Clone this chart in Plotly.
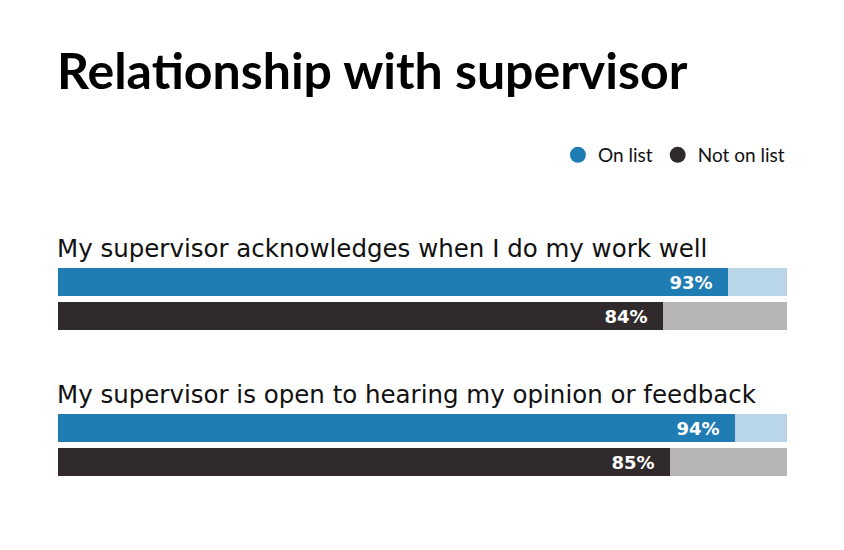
import plotly.graph_objects as go

questions = ["My supervisor acknowledges when I do my work well",
             "My supervisor is open to hearing my opinion or feedback"]
groups = ["On list", "Not on list"]
on_list = [93, 94]
not_on_list = [84, 85]

colors = {"On list": ("#1f7db4", "#b9d6e8"), "Not on list": ("#302a2c", "#b6b4b5")}

# layout in pixels (y axis = page pixels, top down; page has an 8px body margin)
W, H = 844, 550
first_bar = 282
bar_gap = 34
group_gap = 146
bar_h = 28
x_max = 101.25  # grey/light track runs a little past 100 in the original

fig = go.Figure()
for k, (g, vals) in enumerate(zip(groups, [on_list, not_on_list])):
    ys = [first_bar + i * group_gap + k * bar_gap for i in range(len(questions))]
    fig.add_trace(go.Bar(x=[x_max] * len(vals), y=ys, orientation="h", width=bar_h,
                         marker=dict(color=colors[g][1], line_width=0),
                         showlegend=False, hoverinfo="skip"))
    fig.add_trace(go.Bar(x=vals, y=ys, orientation="h", width=bar_h,
                         marker=dict(color=colors[g][0], line_width=0),
                         text=[f"{v}%\u00a0\u00a0" for v in vals], textposition="inside",
                         insidetextanchor="end", constraintext="none",
                         textfont=dict(color="white", size=18, family="DejaVu Sans", weight="bold"),
                         showlegend=False, name=g))
    fig.add_trace(go.Scatter(x=[None], y=[None], mode="markers", name=g,
                             marker=dict(color=colors[g][0], size=16, symbol="circle")))

for i, q in enumerate(questions):
    fig.add_annotation(x=0, y=first_bar + i * group_gap - bar_h / 2 - 3, xref="x", yref="y",
                       text=q, showarrow=False, xanchor="left", yanchor="bottom",
                       xshift=-3,
                       font=dict(size=24.5, color="#111", family="DejaVu Sans"))

fig.add_annotation(x=0, y=38, xref="x", yref="y", text="<b>Relationship with supervisor</b>",
                   showarrow=False, xanchor="left", yanchor="top", xshift=-3,
                   font=dict(size=50, color="#000", family="Lato"))

fig.update_layout(
    width=W, height=H, barmode="overlay", bargap=0,
    margin=dict(l=50, r=65, t=0, b=0),
    plot_bgcolor="white", paper_bgcolor="white",
    xaxis=dict(range=[0, x_max], visible=False, fixedrange=True),
    yaxis=dict(range=[H + 8, 8], visible=False, fixedrange=True),
    legend=dict(orientation="h", x=1.004, xanchor="right", y=1 - 147 / H, yanchor="middle",
                font=dict(size=19, color="#111", family="Lato"), itemwidth=30,
                traceorder="normal"),
    font=dict(family="Lato"),
)

fig.write_html("out.html")
